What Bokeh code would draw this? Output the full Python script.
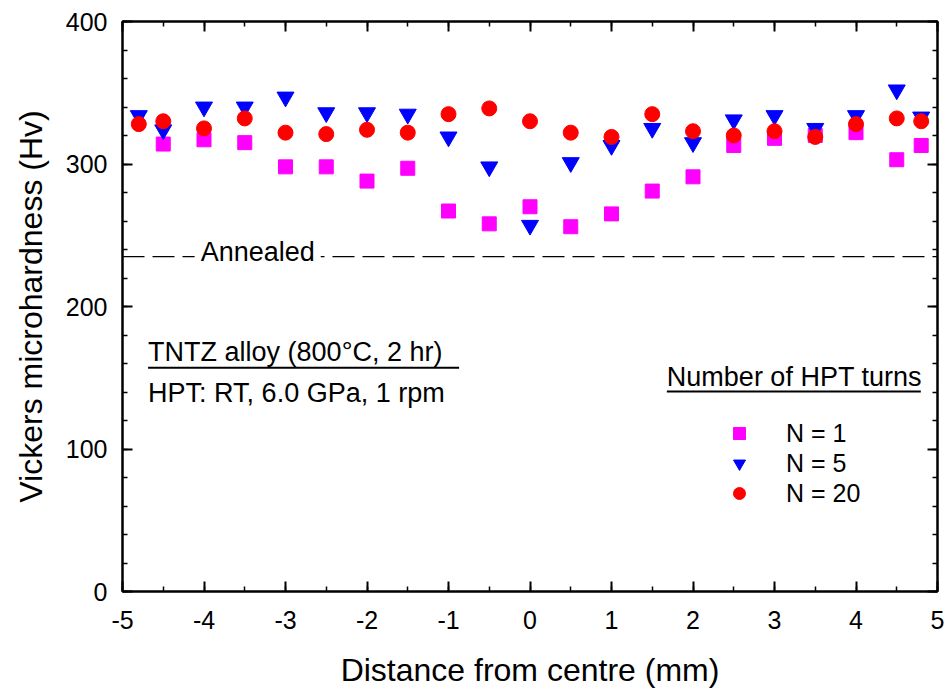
from bokeh.plotting import figure
from bokeh.models import (FixedTicker, LinearAxis, Range1d, Span, Label, BoxAnnotation,
                          Legend, LegendItem, CustomJSTickFormatter, ColumnDataSource)
from bokeh.embed import file_html
from bokeh.resources import INLINE

FONT = "Liberation Sans"

# ---------------- data ----------------
x_n1 = [-4.5, -4, -3.5, -3, -2.5, -2, -1.5, -1, -0.5, 0, 0.5, 1, 1.5, 2, 2.5, 3, 3.5, 4, 4.5, 4.8]
hv_n1 = [314, 317, 315, 298, 298, 288, 297, 267, 258, 270, 256, 265, 281, 291, 313, 318, 320, 322, 303, 313]

x_n5 = [-4.8, -4.5, -4, -3.5, -3, -2.5, -2, -1.5, -1, -0.5, 0, 0.5, 1, 1.5, 2, 2.5, 3, 3.5, 4, 4.5, 4.8]
hv_n5 = [334, 324, 340, 340, 347, 336, 336, 335, 319, 298, 257, 301, 313, 325, 315, 331, 334, 325, 334, 352, 333]

x_n20 = [-4.8, -4.5, -4, -3.5, -3, -2.5, -2, -1.5, -1, -0.5, 0, 0.5, 1, 1.5, 2, 2.5, 3, 3.5, 4, 4.5, 4.8]
hv_n20 = [328, 330, 325, 332, 322, 321, 324, 322, 335, 339, 330, 322, 319, 335, 323, 320, 323, 319, 328, 332, 330]

annealed_hv = 235

x_ticks = [-5, -4, -3, -2, -1, 0, 1, 2, 3, 4, 5]
x_tick_labels = ["-5", "-4", "-3", "-2", "-1", "0", "1", "2", "3", "4", "5"]
x_minor = [-5 + 0.5 * i for i in range(21)]
y_ticks = [0, 100, 200, 300, 400]
y_tick_labels = ["0", "100", "200", "300", "400"]
y_minor = [20 * i for i in range(21)]

series_labels = ["N = 1", "N = 5", "N = 20"]

# ---------------- figure ----------------
p = figure(width=949, height=696, x_range=Range1d(-5, 5), y_range=Range1d(0, 400),
           output_backend="svg", toolbar_location=None,
           min_border_left=122, min_border_right=12, min_border_top=21, min_border_bottom=105)
p.grid.visible = False
p.outline_line_color = "black"
p.outline_line_width = 2
p.background_fill_color = "white"
p.border_fill_color = "white"

xt = FixedTicker(ticks=x_ticks, minor_ticks=x_minor)
yt = FixedTicker(ticks=y_ticks, minor_ticks=y_minor)


def style_axis(ax):
    ax.axis_line_width = 2
    ax.axis_line_color = "black"
    ax.major_tick_in = 10
    ax.major_tick_out = 0
    ax.minor_tick_in = 5
    ax.minor_tick_out = 0
    ax.major_tick_line_width = 2
    ax.minor_tick_line_width = 1.5
    ax.major_label_text_font = FONT
    ax.major_label_text_font_size = "25px"
    ax.major_label_text_color = "black"
    ax.axis_label_text_font = FONT
    ax.axis_label_text_font_size = "32px"
    ax.axis_label_text_font_style = "normal"
    ax.axis_label_text_color = "black"


xa = p.xaxis[0]
xa.ticker = xt
xa.major_label_overrides = {t: l for t, l in zip(x_ticks, x_tick_labels)}
xa.axis_label = "Distance from centre (mm)"
style_axis(xa)
xa.major_label_standoff = 19
xa.axis_label_standoff = 20

ya = p.yaxis[0]
ya.ticker = yt
ya.major_label_overrides = {t: l for t, l in zip(y_ticks, y_tick_labels)}
ya.axis_label = "Vickers microhardness (Hv)"
style_axis(ya)
ya.major_label_standoff = 15
ya.axis_label_standoff = 14

empty = CustomJSTickFormatter(code="return ''")
top = LinearAxis(ticker=xt, formatter=empty, major_label_standoff=0)
style_axis(top)
p.add_layout(top, "above")
right = LinearAxis(ticker=yt, formatter=empty, major_label_standoff=0)
style_axis(right)
p.add_layout(right, "right")

# ---------------- annealed line ----------------
p.add_layout(Span(location=annealed_hv, dimension="width", line_color="black",
                  line_width=1.2, line_dash="22 8"))
p.add_layout(Label(x=-4.115, y=238.0, text="Annealed", text_font=FONT, text_font_size="27px",
                   text_color="black", text_baseline="alphabetic", padding=6,
                   background_fill_color="white", background_fill_alpha=1.0))

# ---------------- data ----------------
s1 = ColumnDataSource(dict(x=x_n1, y=hv_n1))
s5 = ColumnDataSource(dict(x=x_n5, y=hv_n5))
s20 = ColumnDataSource(dict(x=x_n20, y=hv_n20))
r1 = p.scatter("x", "y", source=s1, marker="square", size=14, fill_color="#ff00ff",
               line_color="#ff00ff")
r5 = p.scatter("x", "y", source=s5, marker="inverted_triangle", size=17, fill_color="#0000ff",
               line_color="#0000ff")
r20 = p.scatter("x", "y", source=s20, marker="circle", size=15, fill_color="#ff0000",
                line_color="#ff0000")

# ---------------- annotations ----------------
p.add_layout(Label(x=-4.686, y=168.4, text="TNTZ alloy (800°C, 2 hr)", text_font=FONT,
                   text_font_size="27px", text_color="black", text_baseline="alphabetic"))
p.add_layout(BoxAnnotation(left=-4.686, right=-0.87, bottom=156.4, top=157.8,
                           fill_color="black", fill_alpha=1.0, line_color=None))
p.add_layout(Label(x=-4.686, y=139.2, text="HPT: RT, 6.0 GPa, 1 rpm", text_font=FONT,
                   text_font_size="27px", text_color="black", text_baseline="alphabetic"))

p.add_layout(Label(x=1.679, y=150.2, text="Number of HPT turns", text_font=FONT,
                   text_font_size="27px", text_color="black", text_baseline="alphabetic"))
p.add_layout(BoxAnnotation(left=1.679, right=4.795, bottom=139.7, top=141.1,
                           fill_color="black", fill_alpha=1.0, line_color=None))

legend = Legend(items=[LegendItem(label=series_labels[0], renderers=[r1]),
                       LegendItem(label=series_labels[1], renderers=[r5]),
                       LegendItem(label=series_labels[2], renderers=[r20])],
                location=(599, 83), glyph_width=36, glyph_height=30, spacing=0,
                label_standoff=29, padding=0, margin=0,
                label_text_font=FONT, label_text_font_size="25px", label_text_color="black",
                background_fill_alpha=0, border_line_color=None)
p.add_layout(legend)

open("out.html", "w").write(file_html(p, INLINE))
